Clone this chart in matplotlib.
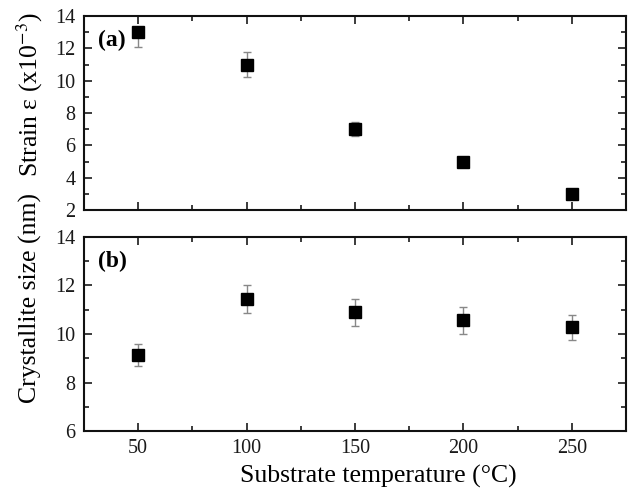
import matplotlib
matplotlib.use("Agg")
import matplotlib.pyplot as plt
from matplotlib.ticker import MultipleLocator

plt.rcParams['font.family'] = ['Liberation Serif', 'DejaVu Serif']
plt.rcParams['mathtext.fontset'] = 'stix'

temps = [50, 100, 150, 200, 250]
strain = [13.0, 11.0, 7.0, 5.0, 3.0]
strain_err_lo = [0.9, 0.8, 0.45, 0.2, 0.1]
strain_err_hi = [0.15, 0.8, 0.45, 0.2, 0.1]
size_nm = [9.15, 11.45, 10.9, 10.57, 10.27]
size_err = [0.45, 0.57, 0.55, 0.55, 0.5]

W, H = 630, 494
fig = plt.figure(figsize=(W / 100, H / 100), dpi=100)
ax1 = fig.add_axes([84 / W, 1 - 210 / H, 542 / W, 194 / H])
ax2 = fig.add_axes([84 / W, 1 - 431 / H, 542 / W, 194 / H])


def style(ax, ylim):
    ax.set_xlim(25, 275)
    ax.set_ylim(*ylim)
    ax.xaxis.set_major_locator(MultipleLocator(50))
    ax.xaxis.set_minor_locator(MultipleLocator(25))
    ax.yaxis.set_major_locator(MultipleLocator(2))
    ax.yaxis.set_minor_locator(MultipleLocator(1))
    ax.tick_params(which='both', direction='in', top=True, right=True,
                   labelsize=14.5, width=1.2, colors='#1a1a1a', pad=6)
    ax.tick_params(which='major', length=6)
    ax.tick_params(which='minor', length=3.5)
    for s in ax.spines.values():
        s.set_linewidth(1.5)
        s.set_color('#111111')


ax1.errorbar(temps, strain, yerr=[strain_err_lo, strain_err_hi], fmt='s',
             color='black', ms=8, ecolor='#888888', elinewidth=1,
             capsize=3, capthick=1)
ax2.errorbar(temps, size_nm, yerr=size_err, fmt='s', color='black', ms=8,
             ecolor='#888888', elinewidth=1, capsize=3, capthick=1)

style(ax1, (2, 14))
style(ax2, (6, 14))
ax1.tick_params(labelbottom=False)

ax1.text(0.026, 0.875, '(a)', transform=ax1.transAxes, fontsize=17,
         fontweight='bold', va='center')
ax2.text(0.026, 0.875, '(b)', transform=ax2.transAxes, fontsize=17,
         fontweight='bold', va='center')

fig.text(378 / W, 1 - 476 / H, 'Substrate temperature (°C)', fontsize=18.5,
         ha='center', va='center')
fig.text(30 / W, 1 - 95 / H, r'Strain ε (x10$^{-3}$)', rotation=90,
         fontsize=18.5, ha='center', va='center')
fig.text(30 / W, 1 - 298 / H, 'Crystallite size (nm)', rotation=90,
         fontsize=18.5, ha='center', va='center')

fig.savefig('out.png', dpi=100)
